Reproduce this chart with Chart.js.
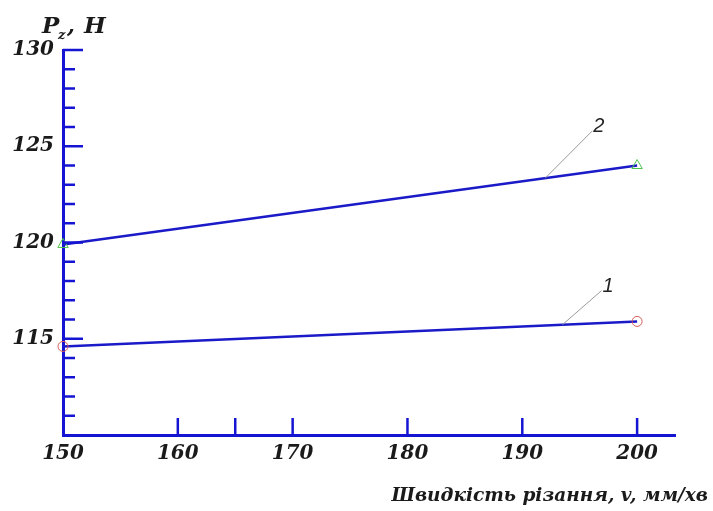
<!DOCTYPE html>
<html>
<head>
<meta charset="utf-8">
<script src="https://cdn.jsdelivr.net/npm/chart.js@4/dist/chart.umd.min.js"></script>
<style>
  html, body { margin: 0; padding: 0; background: #fff; }
  #wrap { width: 713px; height: 511px; }
</style>
</head>
<body>
<div id="wrap"><canvas id="chart" width="713" height="511"></canvas></div>
<script>
// values
const speeds = [150, 200];
const force1 = [114.6, 115.9];   // curve 1
const force2 = [119.9, 124.0];   // curve 2
const xTicks = [150, 160, 165, 170, 180, 190, 200];
const xLabels = ["150", "160", "", "170", "180", "190", "200"];
const yLabels = { 115: "115", 120: "120", 125: "125", 130: "130" };

const AXIS = "#1414d2";
const LINE = "#1a1ac8";
const TXT = "#1a1a1a";
const SERIF = "'DejaVu Serif', 'Liberation Serif', serif";

/** leader lines with curve numbers: start on curve at x, end at (x2, y2) */
const callouts = [
  { text: "2", series: force2, x: 192, x2: 196.1, y2: 125.8 },
  { text: "1", series: force1, x: 193.5, x2: 196.9, y2: 117.5 }
];

function valueAt(series, x) {
  const t = (x - speeds[0]) / (speeds[1] - speeds[0]);
  return series[0] + (series[1] - series[0]) * t;
}

const decor = {
  id: "decor",
  afterDraw(chart) {
    const { ctx, chartArea: a, scales: { x, y } } = chart;
    ctx.save();

    // inward tick marks
    ctx.strokeStyle = AXIS;
    ctx.lineWidth = 2.5;
    y.ticks.forEach(t => {
      if (t.value === y.min) return;
      const py = y.getPixelForValue(t.value);
      const len = t.value % 5 === 0 ? 20 : 12;
      ctx.beginPath();
      ctx.moveTo(a.left, py);
      ctx.lineTo(a.left + len, py);
      ctx.stroke();
    });
    x.ticks.forEach(t => {
      if (t.value === x.min) return;
      const px = x.getPixelForValue(t.value);
      ctx.beginPath();
      ctx.moveTo(px, a.bottom);
      ctx.lineTo(px, a.bottom - 17);
      ctx.stroke();
    });

    // callouts
    callouts.forEach(c => {
      const x1 = x.getPixelForValue(c.x), y1 = y.getPixelForValue(valueAt(c.series, c.x));
      const x2 = x.getPixelForValue(c.x2), y2 = y.getPixelForValue(c.y2);
      ctx.strokeStyle = "#9a9a9a";
      ctx.lineWidth = 1;
      ctx.beginPath();
      ctx.moveTo(x1, y1);
      ctx.lineTo(x2, y2);
      ctx.stroke();
      ctx.fillStyle = "#222";
      ctx.font = "italic 20px 'Liberation Sans', Arial, sans-serif";
      ctx.textAlign = "left";
      ctx.textBaseline = "alphabetic";
      ctx.fillText(c.text, x2 + 1, y2 + 1);
    });

    // axis titles
    ctx.fillStyle = TXT;
    ctx.textAlign = "left";
    ctx.textBaseline = "alphabetic";
    ctx.font = "bold italic 23px " + SERIF;
    ctx.fillText("P", 42, 33);
    ctx.fillText(",", 67, 33);
    ctx.fillText("H", 84, 33);
    ctx.font = "bold italic 13px " + SERIF;
    ctx.fillText("z", 58, 39);

    ctx.font = "bold italic 18.5px " + SERIF;
    ctx.textAlign = "right";
    ctx.fillText("Швидкість різання, v, мм/хв", 708, 501);
    ctx.restore();
  }
};

new Chart(document.getElementById("chart"), {
  type: "line",
  data: {
    datasets: [
      {
        label: "1",
        data: speeds.map((s, i) => ({ x: s, y: force1[i] })),
        borderColor: LINE,
        borderWidth: 2.5,
        pointStyle: "circle",
        pointRadius: 5,
        pointBorderWidth: 1,
        pointBorderColor: "#d85a5a",
        pointBackgroundColor: "rgba(0,0,0,0)",
        clip: false
      },
      {
        label: "2",
        data: speeds.map((s, i) => ({ x: s, y: force2[i] })),
        borderColor: LINE,
        borderWidth: 2.5,
        pointStyle: "triangle",
        pointRadius: 6,
        pointBorderWidth: 1,
        pointBorderColor: "#4cc44c",
        pointBackgroundColor: "rgba(0,0,0,0)",
        clip: false
      }
    ]
  },
  options: {
    responsive: false,
    animation: false,
    layout: { padding: { top: 50, right: 38, left: 0, bottom: 0 } },
    plugins: { legend: { display: false }, tooltip: { enabled: false } },
    scales: {
      x: {
        type: "linear",
        min: 150,
        max: 203.3,
        afterBuildTicks: s => { s.ticks = xTicks.map(v => ({ value: v })); },
        afterFit: s => { s.height = 76; },
        grid: { display: false, drawTicks: false },
        border: { display: true, color: AXIS, width: 3 },
        ticks: {
          padding: 7,
          color: TXT,
          font: { family: SERIF, size: 20, style: "italic", weight: "bold" },
          maxRotation: 0,
          autoSkip: false,
          callback: v => xLabels[xTicks.indexOf(v)] ?? ""
        }
      },
      y: {
        min: 110,
        max: 130,
        afterFit: s => { s.width = 63; },
        grid: { display: false, drawTicks: false },
        border: { display: true, color: AXIS, width: 3 },
        ticks: {
          stepSize: 1,
          padding: 9,
          color: TXT,
          autoSkip: false,
          font: { family: SERIF, size: 20, style: "italic", weight: "bold" },
          callback: v => yLabels[v] ?? ""
        }
      }
    }
  },
  plugins: [decor]
});
</script>
</body>
</html>
